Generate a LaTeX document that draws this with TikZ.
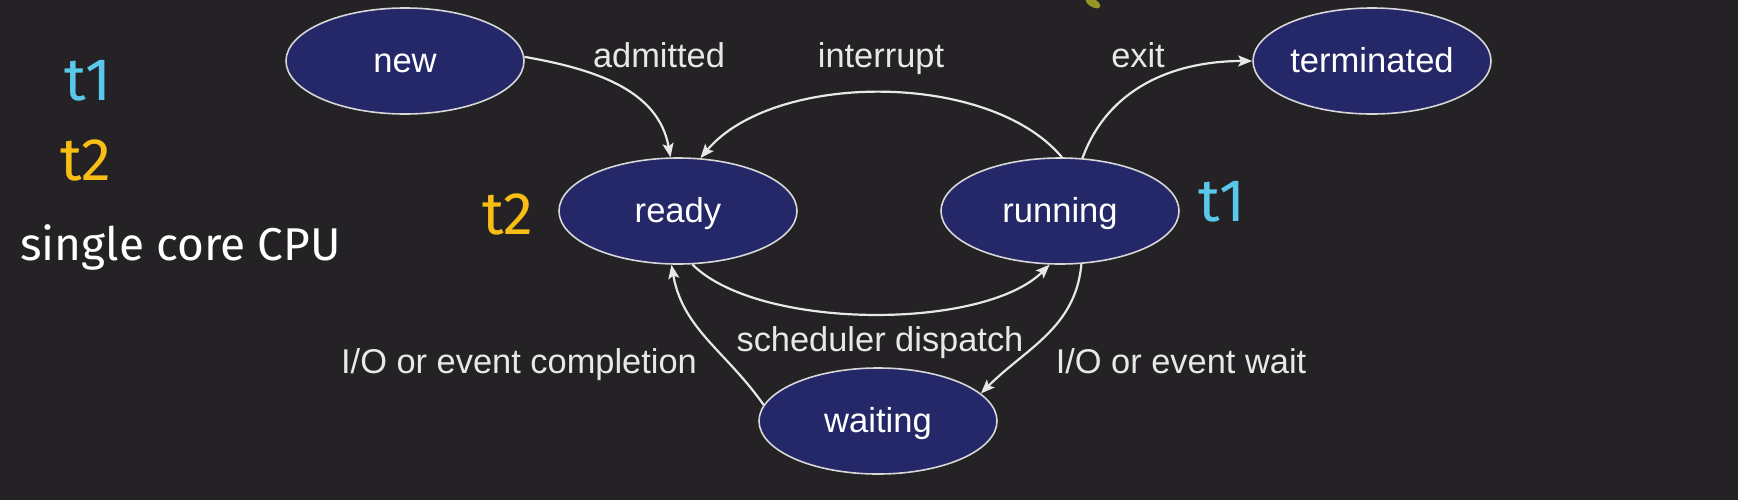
\documentclass[tikz,border=0pt]{standalone}
\usepackage{fontspec}
\setmainfont{Liberation Sans}
\newfontfamily\handfont{Fira Sans}
\usetikzlibrary{shapes.geometric,arrows.meta}
\definecolor{bg}{RGB}{36,34,37}
\definecolor{statefill}{RGB}{36,40,104}
\definecolor{edgecol}{RGB}{232,232,232}
\definecolor{bordercol}{RGB}{215,215,215}
\definecolor{tcyan}{RGB}{90,200,235}
\definecolor{tyellow}{RGB}{249,190,20}
\definecolor{blobcol}{RGB}{150,150,40}
\begin{document}
\begin{tikzpicture}[x=0.5pt,y=0.5pt,
  state/.style={ellipse,draw=bordercol,line width=0.8pt,fill=statefill,
    minimum width=119pt,minimum height=53pt,inner sep=0pt,text=white,
    text height=12pt,text depth=0.5pt,
    font=\fontsize{17.3}{20}\selectfont},
  lbl/.style={text=edgecol,font=\fontsize{17.2}{20}\selectfont,inner sep=0pt,anchor=base},
  trans/.style={draw=edgecol,line width=1.1pt,-{Stealth[length=7pt,width=5.5pt,inset=1.5pt]}},
  hand/.style={font=\handfont\fontsize{30}{32}\selectfont,inner sep=0pt}]
\fill[bg] (0,0) rectangle (1738,500);
\useasboundingbox (0,0) rectangle (1738,500);
% states
\node[state] (new) at (405,439) {new};
\node[state] (terminated) at (1372,439) {terminated};
\node[state] (ready) at (678,289) {ready};
\node[state] (running) at (1060,289) {running};
\node[state] (waiting) at (878,79) {waiting};
% labels
\node[lbl] (ladm) at (659,433) {admitted};
\node[lbl] (lint) at (881,433) {interrupt};
\node[lbl] (lexit) at (1138,433) {exit};
\node[lbl] (lsched) at (880,149) {scheduler dispatch};
\node[lbl] (lcomp) at (519,127) {I/O or event completion};
\node[lbl] (lwait) at (1181,127) {I/O or event wait};
% transitions
\draw[trans] (new.2) to[out=-10,in=100] (ready.98);
\draw[trans] (running.88) to[out=130,in=50,looseness=0.8] (ready.67);
\draw[trans] (running.67) to[out=70,in=180] (terminated.west);
\draw[trans] (ready.-75) to[out=-45,in=-135,looseness=0.67] (running.-101);
\draw[trans] (running.-68) to[out=-95,in=45] (waiting.15);
\draw[trans] (waiting.172) to[out=125,in=-80] (ready.-97);
% handwritten notes
\node[hand,text=tcyan] (h1) at (88,419) {t1};
\node[hand,text=tyellow] (h2) at (86,340) {t2};
\node[hand,text=white,font=\handfont\fontsize{23}{26}\selectfont,anchor=west] (h3) at (20,253) {single core CPU};
\node[hand,text=tyellow] (h4) at (508,286) {t2};
\node[hand,text=tcyan] (h5) at (1222,298) {t1};
\fill[blobcol,rotate around={-30:(1093,497)}] (1093,497) ellipse (8 and 4);
\end{tikzpicture}
\end{document}
